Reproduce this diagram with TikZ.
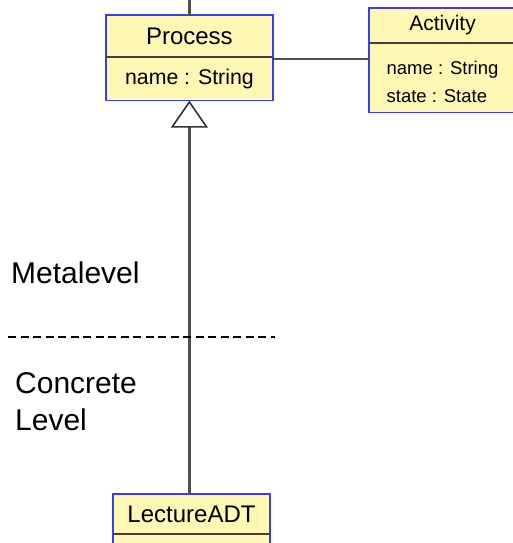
\documentclass[tikz,border=0pt]{standalone}
\usepackage{fontspec}
\setmainfont{Liberation Sans}
\usetikzlibrary{arrows.meta,positioning}
\definecolor{classfill}{HTML}{FFF7B4}
\definecolor{classline}{HTML}{3C3CF0}
\definecolor{linkgray}{HTML}{505050}
\tikzset{
classhead/.style = {fill=classfill, rectangle, inner sep=0pt},
classattr/.style = {fill=classfill, rectangle, inner xsep=0pt, inner ysep=0pt, align=left},
classborder/.style = {draw=classline, line width=1.6pt},
divider/.style = {draw=black!75, line width=1.8pt},
assoc/.style = {draw=linkgray, line width=2.2pt},
generalization/.style = {draw=linkgray, line width=2.2pt, -{Triangle[open, length=27pt, width=37pt, fill=white, color=black!80, line width=1.6pt]}},
levelsep/.style = {draw=black, line width=1.3pt, dash pattern=on 8pt off 4.5pt},
levellabel/.style = {inner sep=0pt, font=\fontsize{30}{37}\selectfont}
}
\begin{document}
\begin{tikzpicture}[x=1pt, y=-1pt]
		\useasboundingbox (0,0) rectangle (513,543);

		% classes
		\node [classhead, minimum width=167pt, minimum height=42pt, font=\fontsize{24}{28}\selectfont] (process) at (189.4,36) {Process};
		\node [classattr, below=0pt of process, minimum width=167pt, minimum height=43pt, font=\fontsize{21.3}{26}\selectfont] (processattr) {name : String};

		\node [classhead, minimum width=147pt, minimum height=35pt, font=\fontsize{21}{25}\selectfont] (activity) at (442.5,25.5) {Activity};
		\node [classattr, below=0pt of activity, minimum width=147pt, minimum height=69pt, font=\fontsize{18.5}{28}\selectfont] (activityattr) {\rule{0pt}{22pt}name : String\\state : State};

		\node [classhead, minimum width=157pt, minimum height=40pt, font=\fontsize{24}{28}\selectfont] (lecture) at (191.5,514) {LectureADT};
		\node [classattr, below=0pt of lecture, minimum width=157pt, minimum height=20pt] (lectureattr) {};

		\draw [classborder] (process.north west) rectangle (processattr.south east);
		\draw [divider] (process.south west) -- (process.south east);
		\draw [classborder] (activity.north west) rectangle (activityattr.south east);
		\draw [divider] (activity.south west) -- (activity.south east);
		\draw [classborder] (lecture.north west) rectangle (lectureattr.south east);
		\draw [divider] (lecture.south west) -- (lecture.south east);

		% connectors
		\coordinate (stubend) at (process.north |- 0,0);
		\draw [assoc] (process.north) -- (stubend);
		\coordinate (assocstart) at ([yshift=-2pt]processattr.north east);
		\draw [assoc] (assocstart) -- (assocstart -| activityattr.west);
		\draw [generalization] (lecture.north -| processattr.south) -- (processattr.south);

		% levels
		\coordinate (sepleft) at (8,337);
		\coordinate (sepright) at (275,337);
		\draw [levelsep] (sepleft) -- (sepright);
		\node [levellabel, anchor=base west] (metalevel) at (11,283) {Metalevel};
		\node [levellabel, anchor=north west, align=left] (concrete) at (15,372) {Concrete\\Level};
\end{tikzpicture}
\end{document}
